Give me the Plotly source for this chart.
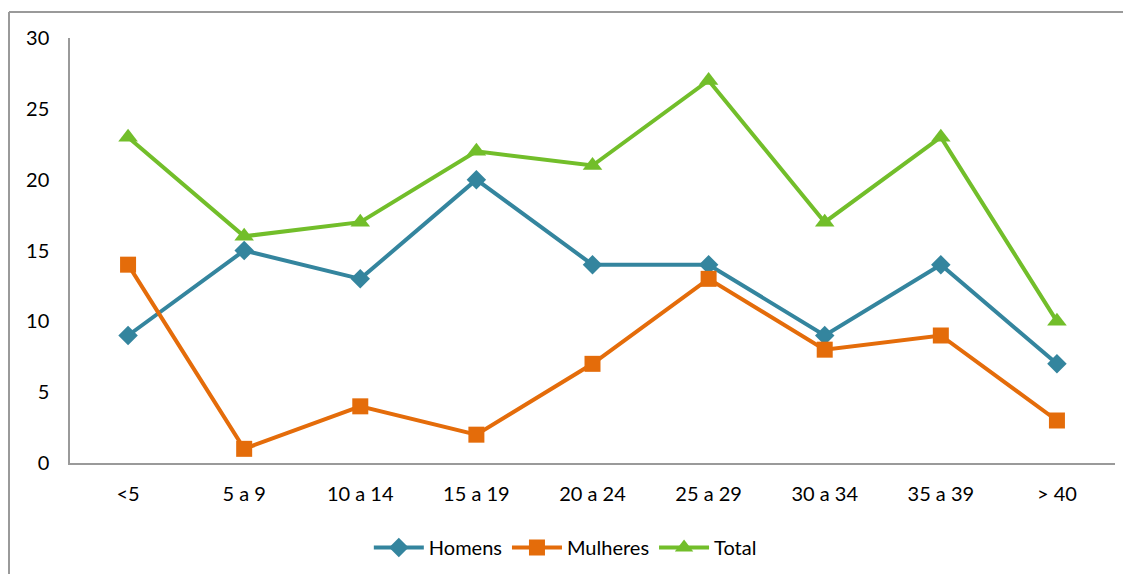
import plotly.graph_objects as go

categories = ["<5", "5 a 9", "10 a 14", "15 a 19", "20 a 24", "25 a 29", "30 a 34", "35 a 39", "> 40"]
homens = [9, 15, 13, 20, 14, 14, 9, 14, 7]
mulheres = [14, 1, 4, 2, 7, 13, 8, 9, 3]
total = [23, 16, 17, 22, 21, 27, 17, 23, 10]

FONT = "Lato, Open Sans, sans-serif"

fig = go.Figure()
fig.add_trace(go.Scatter(x=categories, y=homens, name="Homens", mode="lines+markers",
                         line=dict(color="#34859E", width=4),
                         marker=dict(symbol="diamond", size=15, color="#34859E")))
fig.add_trace(go.Scatter(x=categories, y=mulheres, name="Mulheres", mode="lines+markers",
                         line=dict(color="#E46C0A", width=4),
                         marker=dict(symbol="square", size=16, color="#E46C0A")))
fig.add_trace(go.Scatter(x=categories, y=total, name="Total", mode="lines+markers",
                         line=dict(color="#72BE2A", width=4),
                         marker=dict(symbol="triangle-up", size=17, color="#72BE2A")))

# page body has an 8px margin, so figure coords = reference coords - 8
W, H = 1123, 574
L, R, T, B = 62, 16, 30, 118.5
pw, ph = W - L - R, H - T - B

bx0 = (1 - L) / pw
by1 = 1 + (T - 4) / ph
by0 = -(B + 20) / ph
bx1 = (W - L + 20) / pw

fig.update_layout(
    width=W, height=H,
    margin=dict(l=L, r=R, t=T, b=B),
    paper_bgcolor="white", plot_bgcolor="white",
    font=dict(family=FONT, size=20, color="#000000"),
    showlegend=True,
    legend=dict(orientation="h", x=0.474, xanchor="center", y=-0.199, yanchor="middle",
                font=dict(size=20), itemwidth=50, tracegroupgap=0),
    xaxis=dict(type="category", range=[-0.5, 8.5], showgrid=False, zeroline=False,
               showline=True, linecolor="#9A9A9A", linewidth=1.5, ticks="",
               ticklabelstandoff=12, fixedrange=True),
    yaxis=dict(range=[0, 30], tickvals=[0, 5, 10, 15, 20, 25, 30], showgrid=False,
               zeroline=False, showline=True, linecolor="#9A9A9A", linewidth=1.5,
               ticks="", ticklabelstandoff=15, fixedrange=True),
    shapes=[dict(type="line", xref="paper", yref="paper",
                 x0=bx0, x1=bx0, y0=by0, y1=by1,
                 line=dict(color="#9A9A9A", width=2), layer="below"),
            dict(type="line", xref="paper", yref="paper",
                 x0=bx0, x1=bx1, y0=by1, y1=by1,
                 line=dict(color="#9A9A9A", width=2), layer="below")],
)

fig.write_html("out.html")
